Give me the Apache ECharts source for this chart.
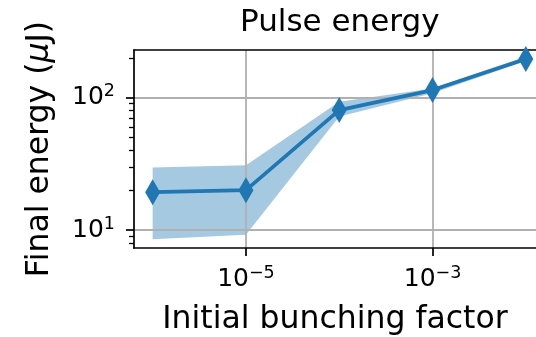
<!DOCTYPE html>
<html>
<head>
<meta charset="utf-8">
<script src="https://cdn.jsdelivr.net/npm/echarts@6/dist/echarts.min.js"></script>
<style>
  html, body { margin: 0; padding: 0; background: #fff; }
  #chart { width: 536px; height: 337px; }
</style>
</head>
<body>
<div id="chart"></div>
<script>
// Initial bunching factor and the resulting pulse energy (µJ)
const bunching = [1e-6, 1e-5, 1e-4, 1e-3, 1e-2];
const energyMean = [19.3, 20.0, 80.5, 114, 196];
const energyLow = [8.5, 9.2, 72, 108, 189];
const energyHigh = [29.6, 30.8, 93, 117, 205];

// Tick positions given as decade exponents / raw values
const xTickExp = [-5, -3];
const yTickExp = [1, 2];
const yMinorVals = [8, 9, 20, 30, 40, 50, 60, 70, 80, 90, 200];

const lg = Math.log10;
const blue = '#1f77b4';
const font = 'DejaVu Sans';

const meanPts = bunching.map((b, i) => [lg(b), lg(energyMean[i])]);
const bandRows = bunching.map((b, i) => [lg(b), lg(energyLow[i]), lg(energyHigh[i])]);

function powLabel(v) {
  const e = Math.round(v);
  const s = e < 0 ? '\u2212' + Math.abs(e) : String(e);
  return '{b|10}{s|' + s + '}';
}
const richPow = {
  b: { fontFamily: font, fontSize: 25, color: '#000', lineHeight: 30 },
  s: { fontFamily: font, fontSize: 17.5, color: '#000', verticalAlign: 'top', lineHeight: 18 }
};

// Spread band: one closed polygon, upper edge left-to-right then lower edge back
function renderBand(params, api) {
  if (params.dataIndex !== 0) return null;
  const upper = bandRows.map(r => api.coord([r[0], r[2]]));
  const lower = bandRows.map(r => api.coord([r[0], r[1]])).reverse();
  return {
    type: 'polygon',
    shape: { points: upper.concat(lower) },
    style: { fill: 'rgba(31,119,180,0.4)' },
    silent: true
  };
}

const frameLine = { show: true, lineStyle: { color: '#000', width: 1.7 } };
const yRange = { min: 0.864, max: 2.36 };
const xRange = { min: -6.2, max: -1.891 };

const chart = echarts.init(document.getElementById('chart'), null, { renderer: 'canvas' });
chart.setOption({
  animation: false,
  backgroundColor: '#fff',
  title: {
    text: 'Pulse energy',
    left: 235,
    top: 2,
    textStyle: { fontFamily: font, fontSize: 31, fontWeight: 'normal', color: '#000' }
  },
  grid: { left: 134, top: 50, bottom: 89, right: 0, outerBoundsMode: 'none', containLabel: false },
  xAxis: [{
    type: 'value',
    ...xRange,
    position: 'bottom',
    name: 'Initial bunching factor',
    nameLocation: 'middle',
    nameGap: 56,
    nameTextStyle: { fontFamily: font, fontSize: 31.5, color: '#000' },
    axisLine: frameLine,
    axisTick: { show: true, customValues: xTickExp, length: 8, lineStyle: { color: '#000', width: 1.7 } },
    axisLabel: { customValues: xTickExp, formatter: powLabel, rich: richPow, margin: 16 },
    splitLine: { show: true, lineStyle: { color: '#b0b0b0', width: 1.8 } }
  }, {
    type: 'value',
    ...xRange,
    position: 'top',
    axisLine: frameLine,
    axisTick: { show: false },
    axisLabel: { show: false },
    splitLine: { show: false }
  }],
  yAxis: [{
    type: 'value',
    ...yRange,
    name: 'Final energy ({i|\u03bc}J)',
    nameLocation: 'middle',
    nameGap: 78,
    nameTextStyle: {
      fontFamily: font, fontSize: 31.5, color: '#000',
      rich: { i: { fontFamily: font, fontSize: 31.5, fontStyle: 'italic', color: '#000' } }
    },
    axisLine: frameLine,
    axisTick: { show: true, customValues: yTickExp, length: 8, lineStyle: { color: '#000', width: 1.7 } },
    axisLabel: { customValues: yTickExp, formatter: powLabel, rich: richPow, margin: 19 },
    splitLine: { show: true, lineStyle: { color: '#b0b0b0', width: 1.8 } }
  }, {
    type: 'value',
    position: 'left',
    ...yRange,
    axisLine: { show: false },
    axisTick: { show: true, customValues: yMinorVals.map(lg), length: 5, lineStyle: { color: '#000', width: 1.3 } },
    axisLabel: { show: false },
    splitLine: { show: false }
  }],
  series: [{
    type: 'custom',
    renderItem: renderBand,
    data: bandRows,
    encode: { x: 0, y: [1, 2] },
    clip: true,
    z: -1,
    silent: true
  }, {
    type: 'line',
    data: meanPts,
    symbol: 'diamond',
    symbolSize: [15, 26],
    itemStyle: { color: blue },
    lineStyle: { color: blue, width: 3.7 },
    z: 5
  }]
});
</script>
</body>
</html>
